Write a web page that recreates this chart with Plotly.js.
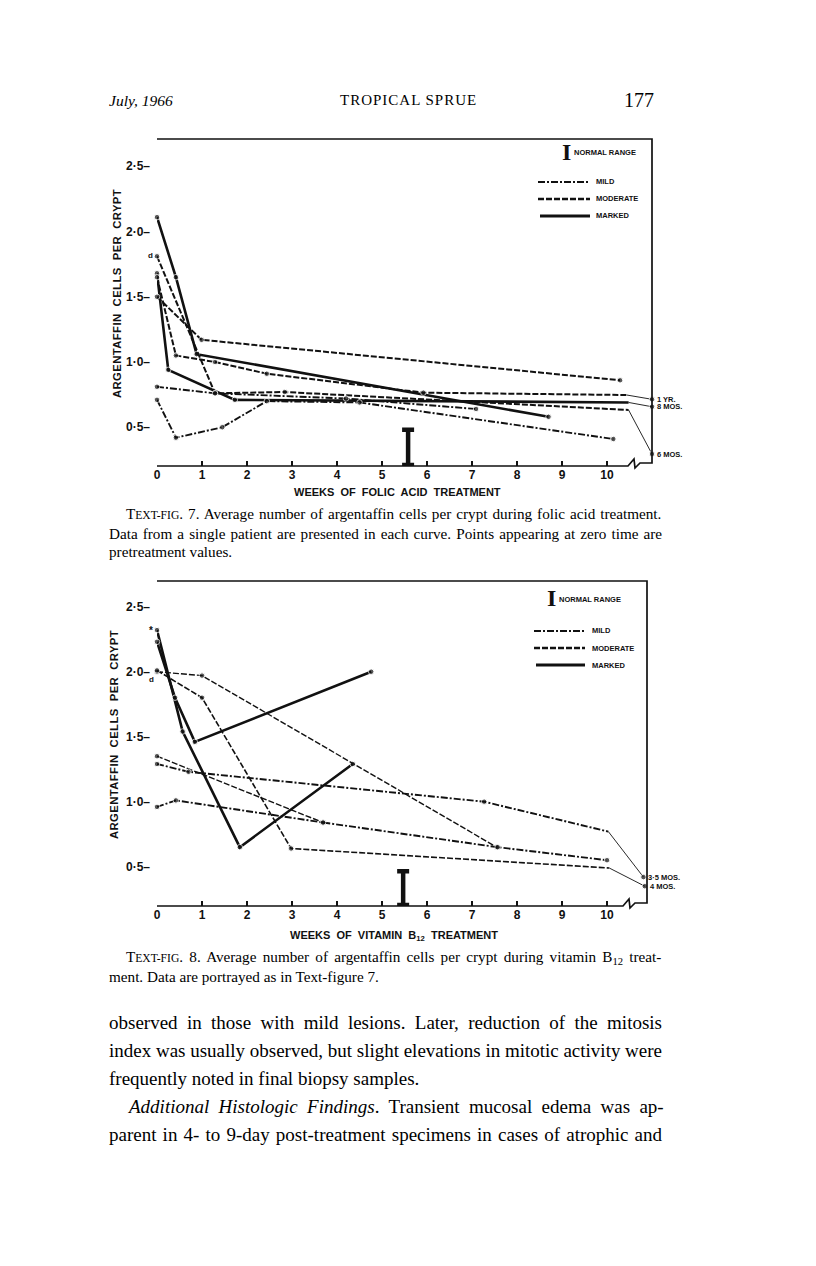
<!DOCTYPE html>
<html><head><meta charset="utf-8">
<script src="https://cdn.plot.ly/plotly-3.0.1.min.js"></script>
<style>html,body{margin:0;padding:0;background:#fff}</style>
</head><body><div id="g" style="width:816px;height:1266px"></div>
<script>
// ---------- shared axis ticks ----------
const weekTicks = [0,1,2,3,4,5,6,7,8,9,10];
const weekTickLabels = ['0','1','2','3','4','5','6','7','8','9','10'];
const cellTicks = [0.5,1.0,1.5,2.0,2.5];
const cellTickLabels = ['0·5–','1·0–','1·5–','2·0–','2·5–'];

// ---------- Text-fig. 7 : folic acid ----------
const f_marked1_x = [0,0.42,0.88,8.7];
const f_marked1_y = [2.11,1.65,1.06,0.58];
const f_marked2_x = [0,0.25,1.73,10.48,11.0];
const f_marked2_y = [1.68,0.94,0.71,0.69,0.657];
const f_moderate1_x = [0,0.99,10.29];
const f_moderate1_y = [1.50,1.17,0.86];
const f_moderate2_x = [0,0.42,1.29,2.44,5.92,10.44,11.0];
const f_moderate2_y = [1.65,1.05,1.0,0.91,0.765,0.747,0.714];
const f_moderate3_x = [0,1.29,2.84,10.48,11.0];
const f_moderate3_y = [1.81,0.76,0.77,0.632,0.295];
const f_mild1_x = [0,1.29,4.2,7.09];
const f_mild1_y = [0.81,0.76,0.72,0.64];
const f_mild2_x = [0,0.42,1.45,2.44,4.5,10.14];
const f_mild2_y = [0.71,0.42,0.50,0.70,0.69,0.41];
const f_endLabels = {marked2:'8 MOS.', moderate2:'1 YR.', moderate3:'6 MOS.'};
const f_normalWeek = [5.58];
const f_normalLow = [0.21];
const f_normalHigh = [0.48];

// ---------- Text-fig. 8 : vitamin B12 ----------
const v_marked1_x = [0,0.57,1.84,4.35];
const v_marked1_y = [2.32,1.54,0.65,1.29];
const v_marked2_x = [0,0.4,0.84,4.76];
const v_marked2_y = [2.23,1.80,1.46,2.0];
const v_moderate1_x = [0,1.0,7.55];
const v_moderate1_y = [2.0,1.97,0.65];
const v_moderate2_x = [0,1.0,2.98,10.05,10.84];
const v_moderate2_y = [2.01,1.80,0.64,0.49,0.35];
const v_moderate3_x = [0,3.69];
const v_moderate3_y = [1.35,0.84];
const v_mild1_x = [0,0.7,7.27,10.03,10.81];
const v_mild1_y = [1.29,1.23,1.0,0.77,0.42];
const v_mild2_x = [0,0.42,3.69,7.57,10.0];
const v_mild2_y = [0.96,1.01,0.84,0.65,0.55];
const v_endLabels = {moderate2:'4 MOS.', mild1:'3·5 MOS.'};
const v_normalWeek = [5.47];
const v_normalLow = [0.205];
const v_normalHigh = [0.465];

// ---------- styles ----------
const INK = '#111';
const STY = {
  mild:     {dash:'7px,2px,2px,2px', width:1.9},
  moderate: {dash:'6px,2px', width:2.0},
  marked:   {dash:'solid', width:2.6}
};
const SANS = 'Liberation Sans, Arial, sans-serif';
const SERIF = 'Liberation Serif, Times New Roman, serif';

const traces = [];
const annotations = [];
function addSeries(xs, ys, sev, xa, ya, endLabel, thin){
  const n = xs.length;
  const mainN = endLabel ? n-1 : n;
  const sizes = xs.slice(0,mainN).map((_,i)=> (endLabel && i===mainN-1) ? 0 : 5.5);
  traces.push({type:'scatter', mode:'lines+markers', xaxis:xa, yaxis:ya,
    x: xs.slice(0,mainN), y: ys.slice(0,mainN), cliponaxis:false,
    line:{color:INK, width:STY[sev].width*(thin||1), dash:STY[sev].dash},
    marker:{color:INK, size:sizes}, showlegend:false, hoverinfo:'skip'});
  if(endLabel){
    traces.push({type:'scatter', mode:'lines+markers', xaxis:xa, yaxis:ya,
      x: xs.slice(n-2), y: ys.slice(n-2), cliponaxis:false,
      line:{color:INK, width:0.9}, marker:{color:INK, size:[0,5.5]},
      showlegend:false, hoverinfo:'skip'});
    annotations.push({xref:xa, yref:ya, x:xs[n-1], y:ys[n-1], text:endLabel,
      xanchor:'left', yanchor:'middle', xshift:3, showarrow:false,
      font:{family:SANS, size:7.5, color:INK, weight:700}});
  }
}
function addNormal(wk, lo, hi, xa, ya){
  traces.push({type:'scatter', mode:'markers', xaxis:xa, yaxis:ya,
    x: wk, y: wk.map((_,i)=>(lo[i]+hi[i])/2), cliponaxis:false,
    marker:{size:0.1, color:INK},
    error_y:{type:'data', symmetric:true, array: wk.map((_,i)=>(hi[i]-lo[i])/2),
      visible:true, color:INK, thickness:4.5, width:6},
    showlegend:false, hoverinfo:'skip'});
}

addSeries(f_marked1_x, f_marked1_y, 'marked', 'x', 'y');
addSeries(f_marked2_x, f_marked2_y, 'marked', 'x', 'y', f_endLabels.marked2);
addSeries(f_moderate1_x, f_moderate1_y, 'moderate', 'x', 'y');
addSeries(f_moderate2_x, f_moderate2_y, 'moderate', 'x', 'y', f_endLabels.moderate2);
addSeries(f_moderate3_x, f_moderate3_y, 'moderate', 'x', 'y', f_endLabels.moderate3);
addSeries(f_mild1_x, f_mild1_y, 'mild', 'x', 'y');
addSeries(f_mild2_x, f_mild2_y, 'mild', 'x', 'y');
addNormal(f_normalWeek, f_normalLow, f_normalHigh, 'x', 'y');

addSeries(v_marked1_x, v_marked1_y, 'marked', 'x2', 'y2');
addSeries(v_marked2_x, v_marked2_y, 'marked', 'x2', 'y2');
addSeries(v_moderate1_x, v_moderate1_y, 'moderate', 'x2', 'y2', null, 0.7);
addSeries(v_moderate2_x, v_moderate2_y, 'moderate', 'x2', 'y2', v_endLabels.moderate2, 0.8);
addSeries(v_moderate3_x, v_moderate3_y, 'moderate', 'x2', 'y2', null, 0.7);
addSeries(v_mild1_x, v_mild1_y, 'mild', 'x2', 'y2', v_endLabels.mild1);
addSeries(v_mild2_x, v_mild2_y, 'mild', 'x2', 'y2');
addNormal(v_normalWeek, v_normalLow, v_normalHigh, 'x2', 'y2');

// ---------- page geometry helpers (pixel -> paper) ----------
const W = 816, H = 1266;
const PX = p => p/W, PY = p => 1 - p/H;

// point markers for "d" and "*"
annotations.push({xref:'x', yref:'y', x:f_moderate3_x[0], y:f_moderate3_y[0], text:'d',
  xanchor:'right', yanchor:'middle', xshift:-2, yshift:1, showarrow:false,
  font:{family:SANS, size:8, color:INK, weight:700}});
annotations.push({xref:'x2', yref:'y2', x:v_moderate1_x[0], y:v_moderate1_y[0], text:'d',
  xanchor:'right', yanchor:'top', xshift:-1, yshift:-1, showarrow:false,
  font:{family:SANS, size:8, color:INK, weight:700}});
annotations.push({xref:'x2', yref:'y2', x:v_marked1_x[0], y:v_marked1_y[0], text:'*',
  xanchor:'right', yanchor:'middle', xshift:-2, showarrow:false,
  font:{family:SANS, size:10, color:INK, weight:700}});

function txt(x, y, text, size, opts){
  annotations.push(Object.assign({xref:'paper', yref:'paper', x:PX(x), y:PY(y), text:text,
    xanchor:'left', yanchor:'middle', showarrow:false,
    font:{family:SERIF, size:size, color:'#000'}}, opts||{}));
}
// justified serif lines: segments [text, italic, kind] kind: 0 normal, 1 small caps, 2 subscript
const cv = document.createElement('canvas').getContext('2d');
function measure(segs, size){
  let w = 0;
  segs.forEach(s=>{
    const sz = s[2]===1 ? size*0.76 : (s[2]===2 ? size*0.7 : size);
    cv.font = (s[1]?'italic ':'') + sz + 'px "Liberation Serif"';
    w += cv.measureText(s[0]).width;
  });
  return w;
}
function jline(x0, x1, y, segs, size, justify){
  const html = segs.map(s=>{
    let t = s[0];
    if(s[2]===1) t = '<span style="font-size:'+(size*0.76).toFixed(1)+'px">'+t+'</span>';
    if(s[2]===2) t = '<sub>'+t+'</sub>';
    if(s[1]) t = '<i>'+t+'</i>';
    return t;
  }).join('');
  let ws = 0;
  if(justify){
    const nsp = segs.map(s=>s[0]).join('').split(' ').length - 1;
    ws = (x1 - x0 - measure(segs, size)) / nsp;
  }
  txt(x0, y, '<span style="word-spacing:'+ws.toFixed(2)+'px">'+html+'</span>', size);
}

// header
txt(107, 100, '<i>July, 1966</i>', 15.5);
txt(408, 100, '<span style="letter-spacing:1px">TROPICAL SPRUE</span>', 15, {xanchor:'center'});
txt(656, 100, '177', 20, {xanchor:'right'});

// axis titles & legends
function chartText(cfg){
  txt(cfg.ytitleX, cfg.ytitleY, '<span style="letter-spacing:0.4px">ARGENTAFFIN  CELLS  PER  CRYPT</span>', 11.3,
    {xanchor:'center', textangle:-90, font:{family:SANS, size:11.3, color:INK, weight:700}});
  txt(cfg.xtitleX, cfg.xtitleY, cfg.xtitle, 11,
    {xanchor:'center', font:{family:SANS, size:11, color:INK, weight:700}});
  txt(cfg.legI[0], cfg.legI[1], 'I', 24, {xanchor:'center', font:{family:SERIF, size:24, color:INK, weight:700}});
  txt(cfg.legI[0]+6, cfg.legI[1]+1, 'NORMAL RANGE', 7.5, {font:{family:SANS, size:7.5, color:INK, weight:700}});
  const names = ['MILD','MODERATE','MARKED'];
  names.forEach((nm,i)=>{
    txt(cfg.legX+56, cfg.legY[i], nm, 7.5, {font:{family:SANS, size:7.5, color:INK, weight:700}});
  });
}
chartText({ytitleX:117, ytitleY:293, xtitleX:397, xtitleY:492, xtitle:'WEEKS  OF  FOLIC  ACID  TREATMENT',
  legI:[566,152], legX:538, legY:[182,199,216]});
chartText({ytitleX:114, ytitleY:735, xtitleX:394, xtitleY:936, xtitle:'WEEKS  OF  VITAMIN  B<sub>12</sub>  TREATMENT',
  legI:[551,598], legX:534, legY:[631,648,665]});

// captions
const CS = 15.2;
jline(124, 660, 514, [['T',0,0],['EXT-FIG',0,1],['. 7. Average number of argentaffin cells per crypt during folic acid treatment.',0,0]], CS, true);
jline(107, 660, 533, [['Data from a single patient are presented in each curve. Points appearing at zero time are',0,0]], CS, true);
jline(107, 660, 551, [['pretreatment values.',0,0]], CS, false);
jline(124, 660, 957, [['T',0,0],['EXT-FIG',0,1],['. 8. Average number of argentaffin cells per crypt during vitamin B',0,0],['12',0,2],[' treat-',0,0]], CS, true);
jline(107, 660, 976, [['ment. Data are portrayed as in Text-figure 7.',0,0]], CS, false);

// body text
const BS = 19;
jline(107, 660, 1022, [['observed in those with mild lesions. Later, reduction of the mitosis',0,0]], BS, true);
jline(107, 660, 1050, [['index was usually observed, but slight elevations in mitotic activity were',0,0]], BS, true);
jline(107, 660, 1078, [['frequently noted in final biopsy samples.',0,0]], BS, false);
jline(125, 660, 1106, [['Additional Histologic Findings',1,0],['. Transient mucosal edema was ap-',0,0]], BS, true);
jline(107, 660, 1134, [['parent in 4- to 9-day post-treatment specimens in cases of atrophic and',0,0]], BS, true);

// ---------- frames & legend samples (paper shapes) ----------
const shapes = [];
function pathShape(pts, w){
  const d = pts.map((p,i)=>(i?'L':'M')+PX(p[0])+','+PY(p[1])).join(' ');
  shapes.push({type:'path', xref:'paper', yref:'paper', path:d, line:{color:INK, width:w||1.6}});
}
function lineShape(x0,y0,x1,y1,sev){
  shapes.push({type:'line', xref:'paper', yref:'paper', x0:PX(x0), y0:PY(y0), x1:PX(x1), y1:PY(y1),
    line:{color:INK, width:STY[sev].width+0.3, dash:STY[sev].dash}});
}
pathShape([[157,139],[652,139],[652,463],[640,463],[635,468],[634,459],[628,466],[157,466]], 1.7);
pathShape([[157,581],[647,581],[647,903],[635,903],[630,908],[629,899],[623,906],[157,906]], 1.7);
[[538,182],[538,199],[540,216]].forEach((p,i)=>lineShape(p[0],p[1],590,p[1],['mild','moderate','marked'][i]));
[[534,631],[534,648],[536,665]].forEach((p,i)=>lineShape(p[0],p[1],585,p[1],['mild','moderate','marked'][i]));

// ---------- axes ----------
const xCommon = {range:[0,11], showgrid:false, zeroline:false, showline:false,
  ticks:'inside', ticklen:5, tickwidth:1.3, tickcolor:INK,
  tickvals:weekTicks, ticktext:weekTickLabels,
  tickfont:{family:SANS, size:12, color:INK, weight:700}, fixedrange:true};
const yCommon = {showgrid:false, zeroline:false, showline:false, ticks:'',
  tickvals:cellTicks, ticktext:cellTickLabels, ticklabelstandoff:6,
  tickfont:{family:SANS, size:12, color:INK, weight:700}, fixedrange:true};

const layout = {
  width:W, height:H, margin:{l:0,r:0,t:0,b:0}, paper_bgcolor:'#fff', plot_bgcolor:'rgba(0,0,0,0)',
  showlegend:false,
  xaxis: Object.assign({}, xCommon, {domain:[PX(157), PX(652)], anchor:'y'}),
  yaxis: Object.assign({}, yCommon, {domain:[PY(466), PY(139)], anchor:'x',
    range:[1+(362-466)/130.5, 1+(362-139)/130.5]}),
  xaxis2: Object.assign({}, xCommon, {domain:[PX(157), PX(652)], anchor:'y2'}),
  yaxis2: Object.assign({}, yCommon, {domain:[PY(906), PY(581)], anchor:'x2',
    range:[1+(801.7-906)/130, 1+(801.7-581)/130]}),
  shapes: shapes,
  annotations: annotations
};
Plotly.newPlot('g', traces, layout, {displayModeBar:false, staticPlot:true});
</script></body></html>
